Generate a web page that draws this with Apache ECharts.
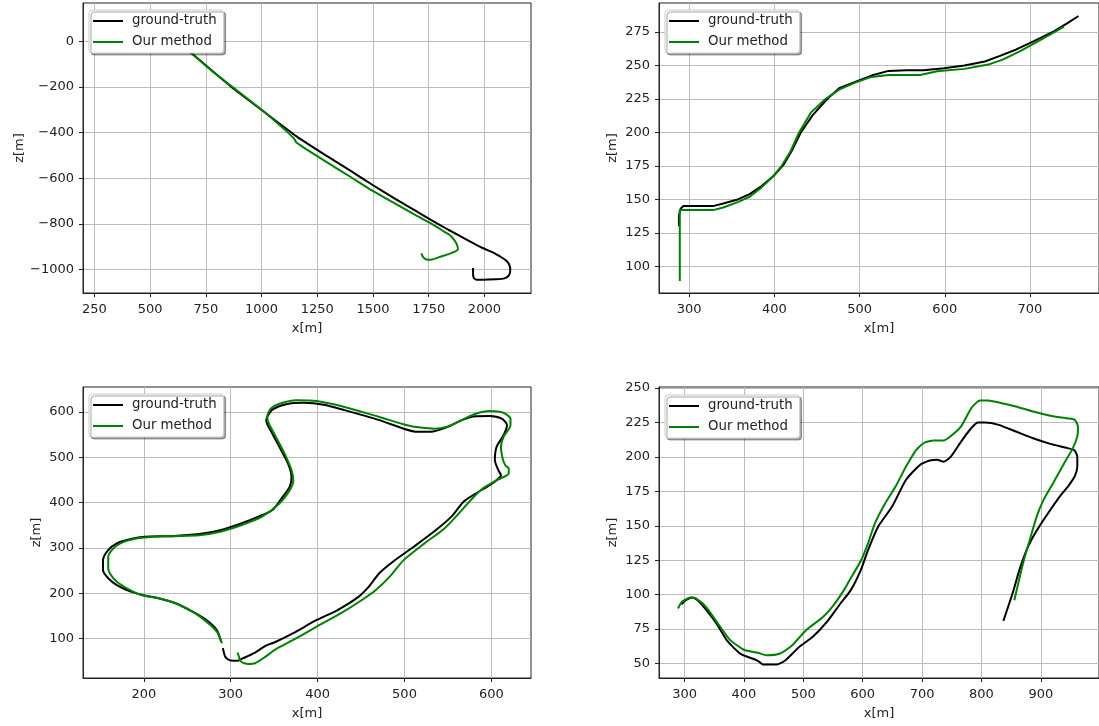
<!DOCTYPE html>
<html>
<head>
<meta charset="utf-8">
<title>trajectories</title>
<script src="https://cdn.jsdelivr.net/npm/echarts@6/dist/echarts.min.js"></script>
<style>
html, body { margin: 0; padding: 0; background: #fff; }
#main { width: 1099px; height: 726px; }
</style>
</head>
<body>
<div id="main"></div>
<script>
//legend names
var names = ['ground-truth', 'Our method'];

//sequence 1 (top left), [x, z]
var gt1 = [[290,100],[420,95],[560,50],[640,-12],[685,-51],[780,-130],[878,-210],[1002,-302],
  [1157,-416],[1296,-504],[1400,-567],[1497,-628],[1600,-690],[1683,-737],[1760,-782],[1838,-825],
  [1920,-868],[1992,-905],[2040,-925],[2070,-942],[2095,-958],[2110,-975],[2116,-1000],[2110,-1025],
  [2090,-1038],[2050,-1042],[1992,-1044],[1965,-1044],[1952,-1035],[1949,-1018],[1949,-993]];
var est1 = [[290,100],[420,95],[560,48],[640,-14],[692,-58],[780,-132],[878,-206],[1002,-301],
  [1110,-392],[1145,-425],[1155,-441],[1170,-452],[1200,-472],[1296,-531],[1400,-594],[1497,-654],
  [1600,-711],[1683,-757],[1760,-797],[1806,-825],[1840,-845],[1865,-870],[1878,-893],[1881,-912],
  [1870,-920],[1840,-932],[1806,-942],[1760,-956],[1740,-955],[1725,-945],[1717,-928]];

//sequence 2 (top right)
var gt2 = [[288,130],[288,138],[290,143],[293,145],[310,145],[328,145],[340,147],[357,150],[371,154],
  [385,160],[399,167.5],[411,176],[421,187],[431,200],[445,213],[462,225],[476,233],[494,237.5],
  [514,242.5],[534,246],[555,246.5],[575,246.5],[599,248],[623,250],[647,253],[664,257],[684,262],
  [704,268],[728,275.5],[744,281.7],[757,287]];
var est2 = [[289,89],[289,110],[289,130],[289,142],[300,142],[328,142],[340,144],[357,148],[371,152],
  [385,159],[399,167.5],[409,175.5],[419,186],[429,200],[443,215],[460,225],[476,232],[494,237],
  [514,241.5],[534,243],[552,243],[571,243],[591,245.7],[623,247.5],[651,250.7],[668,254.4],
  [688,260.6],[712,269],[740,279]];

//sequence 3 (bottom left)
var gt3 = [[291,79],[294,59],[300,51.6],[308,51],[312,54.5],[328,69],[340,84],[352,93],[372,112],
  [399,141],[423,163],[447,192],[459,214.5],[471,244],[487,270],[511,303],[534,336],[554,369],
  [568,402],[582,420],[598,438.5],[606,449.5],[611,460.5],[608,471.5],[604,494],[606,523],
  [614,548.6],[618,570.6],[612,585],[598,591],[582,590.5],[566,582],[550,567],[530,556],[515,556],
  [499,563],[471,582],[431,604],[407,616],[384,620],[364,617],[348,605],[342,589],[341,580],
  [348,552],[358,515.6],[366,486],[370,457],[368,435],[360,413],[348,383.5],[332,369],[312,354],
  [288,339],[264,330.5],[232.6,326],[201,324.7],[185,319.5],[169,310],[159,295.3],[153,273],
  [153,251],[159,233],[169,218],[185,203.5],[201,195],[217,189],[236.5,178],[256,159.5],[272,141],
  [284,119],[289,93]];
var est3 = [[308,69],[312,49],[320,44],[328,45.6],[340,60],[352,76.5],[372,97],[399,126.4],
  [427,156],[451,185],[467,207],[483,236.6],[499,273],[523,310],[546,343],[566,383.4],[578,409],
  [590,431],[606,449.5],[620,464],[620,475],[616,482.5],[613,497],[611,523],[614,545],[622,570.6],
  [622,585],[614,598],[598,602],[582,596],[566,582],[550,568],[534,563],[518.6,565.5],[503,570.6],
  [471,589],[431,611],[399,624],[375.6,625.7],[356,618],[346,607],[342,589],[344,574],[352,545],
  [362,508],[370,471.5],[372,449.5],[368,427.5],[356,398],[336,369],[312,350],[288,335.7],[264,328],
  [232.6,326],[201,323],[181,316],[167,302.6],[159,280.6],[159,255],[165,233],[177,214.5],[197,196],
  [217,189],[236.5,178],[256,159.5],[272,137.4],[284,115.4],[290,89.7]];

//sequence 4 (bottom right)
var gt4 = [[295,93],[302,96],[313,98],[322,96],[336.5,89],[354,79],[371,67],[394.5,57],[423.5,52],
  [432,49.3],[455,49.3],[470,52.4],[493,62],[516,69.4],[539.4,80],[562.6,93.6],[580,103.3],[597,118],
  [609,132.4],[626,149.4],[649.6,164],[672.8,183.3],[696,194],[713,197.4],[725,198],[736.5,196.6],
  [748,200],[765.5,211],[783,221],[794.5,225],[806,225],[829,223.3],[858,218.5],[887,213.6],
  [916,209.5],[945,206.4],[957,204.7],[961.5,200],[961.5,193],[957,185.8],[945.6,178.5],[934,172.4],
  [916,161.5],[899,150.6],[887,142],[876,132.4],[864,118],[852.5,101],[837,81]];
var est4 = [[289,90],[296,95],[310,98],[319,97.3],[336.5,91],[360,76.7],[377,67],[400,60],
  [423.5,57.8],[438,56],[461,57.3],[481.4,63.3],[504.6,74.2],[533.6,84],[551,92.4],[568.4,103.3],
  [583,114.2],[597.4,125],[609,137.3],[620.6,151.8],[638,166.4],[655.4,178.5],[673,193],[690,205],
  [704.6,210.5],[719,212],[736.5,212],[748,215],[765.5,222],[783,235.5],[797.4,241],[812,241],
  [829,239.6],[858,236.7],[887,233],[916,230],[945,228],[957,227],[962.6,222],[961.5,215],
  [954,206.4],[939.4,195.5],[922,182],[904.6,168.8],[893,156.7],[881.4,139.7],[870,122.7],[855.4,96]];

//tick labels
var xTicks1 = [250,500,750,1000,1250,1500,1750,2000];
var zTicks1 = [-1000,-800,-600,-400,-200,0];
var xTicks2 = [300,400,500,600,700];
var zTicks2 = [100,125,150,175,200,225,250,275];
var xTicks3 = [200,300,400,500,600];
var zTicks3 = [100,200,300,400,500,600];
var xTicks4 = [300,400,500,600,700,800,900];
var zTicks4 = [50,75,100,125,150,175,200,225,250];

var font = 'DejaVu Sans';
var txt = '#222';
var fs = 13;

function minus(v) {
    return String(v).replace('-', '\u2212');
}

function makeGrid(l, t, w, h) {
    return {left: l, top: t, width: w, height: h, show: true, borderColor: '#222', borderWidth: 1};
}

function makeAxis(dim, idx, min, max, step, ticks, gap) {
    var ax = {
        type: 'value', gridIndex: idx, min: min, max: max,
        minInterval: step, maxInterval: step,
        name: dim == 'x' ? 'x[m]' : 'z[m]',
        nameLocation: 'middle', nameGap: gap,
        nameTextStyle: {fontFamily: font, fontSize: fs, color: txt},
        axisLine: {show: true, onZero: false, lineStyle: {color: '#222', width: 1}},
        axisTick: {show: true, inside: false, length: 4, customValues: ticks, lineStyle: {color: '#222'}},
        axisLabel: {customValues: ticks, margin: dim == 'x' ? 10 : 9, fontFamily: font, fontSize: fs,
            color: txt, formatter: minus},
        splitLine: {show: true, lineStyle: {color: '#bcbcbc', width: 1}}
    };
    return ax;
}

function makeLegend(l, t) {
    return {
        left: l, top: t, orient: 'vertical', data: names, icon: 'rect',
        itemWidth: 30, itemHeight: 2, itemGap: 7, padding: [4, 7, 4, 4],
        backgroundColor: '#fff', borderColor: '#ccc', borderWidth: 1, borderRadius: 3,
        shadowColor: 'rgba(0,0,0,0.35)', shadowBlur: 0, shadowOffsetX: 2, shadowOffsetY: 2,
        selectedMode: false,
        textStyle: {fontFamily: font, fontSize: 13.3, color: txt, lineHeight: 14, padding: [0, 0, 0, 4]}
    };
}

function makeSeries(name, data, idx, color, smooth) {
    return {
        type: 'line', name: name, xAxisIndex: idx, yAxisIndex: idx, data: data,
        symbol: 'none', showSymbol: false, smooth: smooth, silent: true,
        lineStyle: {color: color, width: 2}, itemStyle: {color: color}
    };
}

var myChart = echarts.init(document.getElementById('main'));
var option = {
    animation: false,
    backgroundColor: '#fff',
    grid: [
        makeGrid(83, 3, 448, 290),
        makeGrid(659, 3, 448, 290),
        makeGrid(83, 387, 448, 291),
        makeGrid(659, 387, 448, 291)
    ],
    xAxis: [
        makeAxis('x', 0, 199, 2209, 250, xTicks1, 29),
        makeAxis('x', 1, 264.6, 781, 100, xTicks2, 29),
        makeAxis('x', 2, 130, 645.6, 100, xTicks3, 29),
        makeAxis('x', 3, 257, 998, 100, xTicks4, 29)
    ],
    yAxis: [
        makeAxis('y', 0, -1102, 168, 200, zTicks1, 57),
        makeAxis('y', 1, 80.1, 296.7, 25, zTicks2, 40),
        makeAxis('y', 2, 13, 655, 100, zTicks3, 40),
        makeAxis('y', 3, 39.5, 250.8, 25, zTicks4, 40)
    ],
    legend: [
        makeLegend(89, 10),
        makeLegend(665, 10),
        makeLegend(89, 394),
        makeLegend(665, 395)
    ],
    series: [
        makeSeries(names[0], gt1, 0, '#000', 0.2),
        makeSeries(names[1], est1, 0, '#008000', 0.2),
        makeSeries(names[0], gt2, 1, '#000', false),
        makeSeries(names[1], est2, 1, '#008000', false),
        makeSeries(names[0], gt3, 2, '#000', 0.25),
        makeSeries(names[1], est3, 2, '#008000', 0.25),
        makeSeries(names[0], gt4, 3, '#000', 0.2),
        makeSeries(names[1], est4, 3, '#008000', 0.2)
    ]
};
myChart.setOption(option);
</script>
</body>
</html>
